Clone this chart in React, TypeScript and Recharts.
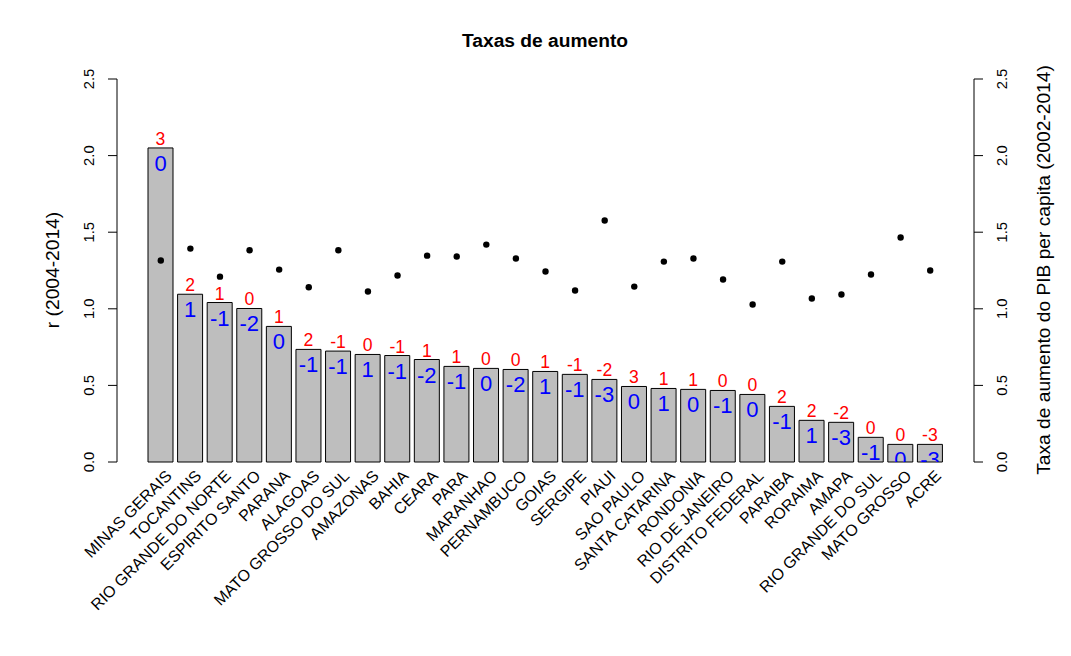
import React from "react";
import {
  ComposedChart,
  Bar,
  Scatter,
  XAxis,
  YAxis,
  LabelList,
} from "recharts";

const states = [
  "MINAS GERAIS", "TOCANTINS", "RIO GRANDE DO NORTE", "ESPIRITO SANTO", "PARANA",
  "ALAGOAS", "MATO GROSSO DO SUL", "AMAZONAS", "BAHIA", "CEARA", "PARA",
  "MARANHAO", "PERNAMBUCO", "GOIAS", "SERGIPE", "PIAUI", "SAO PAULO",
  "SANTA CATARINA", "RONDONIA", "RIO DE JANEIRO", "DISTRITO FEDERAL", "PARAIBA",
  "RORAIMA", "AMAPA", "RIO GRANDE DO SUL", "MATO GROSSO", "ACRE",
];

const rValues = [
  2.05, 1.095, 1.041, 1.002, 0.885, 0.735, 0.724, 0.702, 0.695, 0.669, 0.624,
  0.611, 0.604, 0.591, 0.572, 0.539, 0.493, 0.48, 0.474, 0.467, 0.441, 0.363,
  0.272, 0.259, 0.161, 0.115, 0.115,
];

const pibValues = [
  1.315, 1.393, 1.21, 1.382, 1.256, 1.141, 1.382, 1.113, 1.217, 1.347, 1.341,
  1.419, 1.328, 1.243, 1.119, 1.576, 1.145, 1.308, 1.328, 1.191, 1.028, 1.308,
  1.067, 1.093, 1.224, 1.465, 1.25,
];

const redLabels = [
  3, 2, 1, 0, 1, 2, -1, 0, -1, 1, 1, 0, 0, 1, -1, -2, 3, 1, 1, 0, 0, 2, 2, -2, 0, 0, -3,
];

const blueLabels = [
  0, 1, -1, -2, 0, -1, -1, 1, -1, -2, -1, 0, -2, 1, -1, -3, 0, 1, 0, -1, 0, -1, 1, -3, -1, 0, -3,
];

const yTicks = [0, 0.5, 1, 1.5, 2, 2.5];

const data = states.map((state, i) => ({
  state,
  r: rValues[i],
  pib: pibValues[i],
  red: redLabels[i],
  blue: blueLabels[i],
}));

const FONT = '"Liberation Sans", Arial, sans-serif';
const PLOT_BOTTOM = 462;

const LeftTick = (props: any) => {
  const { y, payload } = props;
  return (
    <text
      x={89}
      y={y}
      textAnchor="middle"
      dominantBaseline="central"
      transform={`rotate(-90, 89, ${y})`}
      fontSize={14.8}
      fontFamily={FONT}
      fill="#000"
    >
      {Number(payload.value).toFixed(1)}
    </text>
  );
};

const RightTick = (props: any) => {
  const { y, payload } = props;
  return (
    <text
      x={1002}
      y={y}
      textAnchor="middle"
      dominantBaseline="central"
      transform={`rotate(-90, 1002, ${y})`}
      fontSize={14.8}
      fontFamily={FONT}
      fill="#000"
    >
      {Number(payload.value).toFixed(1)}
    </text>
  );
};

const StateTick = (props: any) => {
  const { x, payload } = props;
  const ax = x + 8;
  const ay = 473;
  return (
    <text
      x={ax}
      y={ay}
      textAnchor="end"
      dominantBaseline="central"
      transform={`rotate(-45, ${ax}, ${ay})`}
      fontSize={16}
      fontFamily={FONT}
      fill="#000"
    >
      {payload.value}
    </text>
  );
};

const RedLabel = (props: any) => {
  const { x, y, width, value } = props;
  return (
    <text
      x={x + width / 2}
      y={y - 3}
      textAnchor="middle"
      fontSize={17.6}
      fontFamily={FONT}
      fill="#FF0000"
    >
      {value}
    </text>
  );
};

const BlueLabel = (props: any) => {
  const { x, y, width, value, index } = props;
  const id = `clip-blue-${index}`;
  return (
    <g>
      <defs>
        <clipPath id={id}>
          <rect x={0} y={0} width={1071} height={PLOT_BOTTOM} />
        </clipPath>
      </defs>
      <text
        x={x + width / 2}
        y={y + 23}
        textAnchor="middle"
        fontSize={22}
        fontFamily={FONT}
        fill="#0000FF"
        clipPath={`url(#${id})`}
      >
        {value}
      </text>
    </g>
  );
};

const Dot = (props: any) => {
  const { cx, cy } = props;
  return <circle cx={cx} cy={cy} r={3.2} fill="#000" />;
};

export default function App() {
  return (
    <div
      style={{
        position: "absolute",
        left: 0,
        top: 0,
        width: 1071,
        height: 656,
        background: "#fff",
        fontFamily: FONT,
      }}
    >
      <ComposedChart
        width={1071}
        height={656}
        data={data}
        margin={{ top: 79, right: 37, bottom: 44, left: 57 }}
      >
        <XAxis
          dataKey="state"
          type="category"
          interval={0}
          height={150}
          padding={{ left: 29, right: 29 }}
          axisLine={false}
          tickLine={false}
          tick={<StateTick />}
        />
        <YAxis
          yAxisId="left"
          orientation="left"
          width={60}
          domain={[0, 2.5]}
          ticks={yTicks}
          tickSize={9}
          axisLine={{ stroke: "#000" }}
          tickLine={{ stroke: "#000" }}
          tick={<LeftTick />}
        />
        <YAxis
          yAxisId="right"
          orientation="right"
          width={60}
          domain={[0, 2.5]}
          ticks={yTicks}
          tickSize={9}
          axisLine={{ stroke: "#000" }}
          tickLine={{ stroke: "#000" }}
          tick={<RightTick />}
        />
        <Bar
          yAxisId="left"
          dataKey="r"
          barSize={25}
          fill="#BEBEBE"
          stroke="#000"
          strokeWidth={1}
          isAnimationActive={false}
        >
          <LabelList dataKey="red" content={<RedLabel />} />
          <LabelList dataKey="blue" content={<BlueLabel />} />
        </Bar>
        <Scatter
          yAxisId="right"
          dataKey="pib"
          shape={<Dot />}
          isAnimationActive={false}
        />
      </ComposedChart>
      <svg
        width={1071}
        height={656}
        style={{ position: "absolute", left: 0, top: 0, pointerEvents: "none" }}
      >
        <text
          x={545}
          y={47}
          textAnchor="middle"
          fontSize={19.2}
          fontWeight="bold"
          fontFamily={FONT}
          fill="#000"
        >
          Taxas de aumento
        </text>
        <text
          x={52}
          y={270}
          textAnchor="middle"
          dominantBaseline="central"
          transform="rotate(-90, 52, 270)"
          fontSize={19.2}
          fontFamily={FONT}
          fill="#000"
        >
          {"r  (2004-2014)"}
        </text>
        <text
          x={1043}
          y={270}
          textAnchor="middle"
          dominantBaseline="central"
          transform="rotate(-90, 1043, 270)"
          fontSize={19.2}
          fontFamily={FONT}
          fill="#000"
        >
          Taxa de aumento do PIB per capita (2002-2014)
        </text>
      </svg>
    </div>
  );
}
